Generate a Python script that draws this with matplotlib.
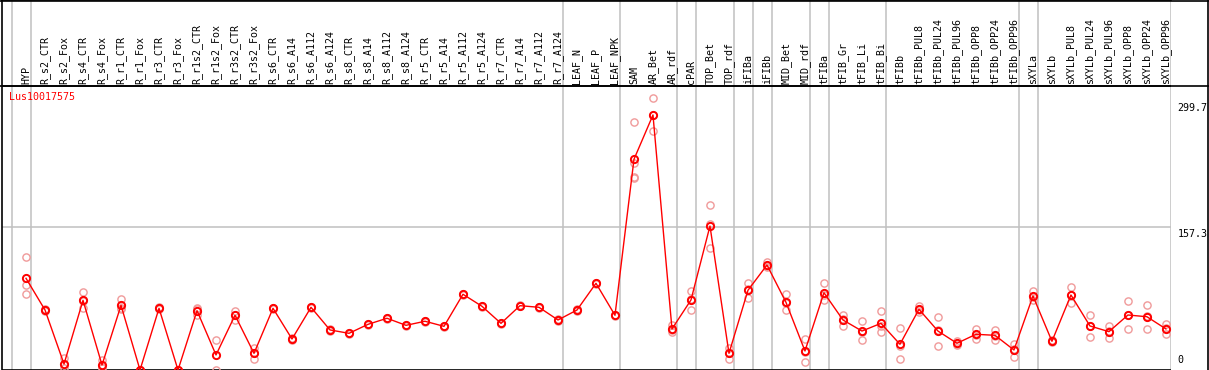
import matplotlib
matplotlib.use("Agg")
import matplotlib.pyplot as plt
from matplotlib.lines import Line2D
from matplotlib.transforms import blended_transform_factory

gene = "Lus10017575"

samples = ["HYP", "R_s2_CTR", "R_s2_Fox", "R_s4_CTR", "R_s4_Fox", "R_r1_CTR", "R_r1_Fox",
           "R_r3_CTR", "R_r3_Fox", "R_r1s2_CTR", "R_r1s2_Fox", "R_r3s2_CTR", "R_r3s2_Fox",
           "R_s6_CTR", "R_s6_A14", "R_s6_A112", "R_s6_A124", "R_s8_CTR", "R_s8_A14",
           "R_s8_A112", "R_s8_A124", "R_r5_CTR", "R_r5_A14", "R_r5_A112", "R_r5_A124",
           "R_r7_CTR", "R_r7_A14", "R_r7_A112", "R_r7_A124", "LEAF_N", "LEAF_P", "LEAF_NPK",
           "SAM", "AR_Bet", "AR_rdf", "cPAR", "TOP_Bet", "TOP_rdf", "iFIBa", "iFIBb",
           "MID_Bet", "MID_rdf", "tFIBa", "tFIB_Gr", "tFIB_Li", "tFIB_Bi", "tFIBb",
           "tFIBb_PUL8", "tFIBb_PUL24", "tFIBb_PUL96", "tFIBb_OPP8", "tFIBb_OPP24",
           "tFIBb_OPP96", "sXYLa", "sXYLb", "sXYLb_PUL8", "sXYLb_PUL24", "sXYLb_PUL96",
           "sXYLb_OPP8", "sXYLb_OPP24", "sXYLb_OPP96"]

means = [101.2, 66.2, 6.6, 76.9, 5.5, 71.4, 0, 68.1, 0, 65.5, 16.6, 60.4, 18.4,
         68.1, 34.2, 69.2, 44.2, 40.5, 50.4, 57.1, 49.3, 53.8, 48.2, 83.6, 70.3,
         51.5, 71.0, 69.2, 55.2, 66.2, 95.7, 60.4,
         232.6, 281.5, 45.3, 77.3, 158.9, 18.4, 88.0, 115.9,
         74.7, 21.0, 85.3, 55.2, 43.0, 51.5, 28.4,
         67.0, 43.0, 29.5, 39.4, 38.3, 22.1,
         81.7, 31.7, 82.8, 48.6, 42.3, 60.7, 58.8, 45.3]

replicates = [
    [124.4, 93.8, 83.9], [67.5, 65.0], [12.9, 6.0, 1.9], [86.1, 76.5, 68.1],
    [11.0, 3.6, 2.0], [78.4, 68.8, 67.0], [0, 0, 0], [69.5, 66.8], [0, 0, 0],
    [68.8, 67.0, 60.7], [33.1, 0], [65.1, 61.0, 55.2], [24.0, 18.6, 12.5],
    [68.8, 67.4], [35.0, 33.4], [70.0, 68.4], [45.0, 43.4], [41.3, 39.7],
    [51.2, 49.6], [57.9, 56.3], [50.1, 48.5], [54.6, 53.0], [49.0, 47.4],
    [84.4, 82.8], [71.1, 69.5], [52.3, 50.7], [71.8, 70.2], [70.0, 68.4],
    [56.0, 54.4], [67.0, 65.4], [96.5, 94.9], [61.2, 59.6],
    [274.0, 228.8, 213.4, 212.3], [299.7, 281.5, 263.8], [49.7, 44.6, 41.6],
    [87.2, 78.5, 66.2], [181.8, 160.6, 134.3], [24.6, 18.8, 11.8],
    [95.7, 89.2, 79.1], [119.5, 114.8, 113.4], [83.9, 74.0, 66.2],
    [34.2, 20.3, 8.5], [95.7, 83.0, 77.3], [60.7, 56.3, 48.6],
    [53.8, 42.4, 32.8], [64.8, 48.1, 41.6], [46.4, 27.0, 11.8],
    [70.6, 66.4, 64.0], [58.2, 44.3, 26.5], [32.0, 28.9, 27.6],
    [45.6, 38.1, 34.5], [44.2, 37.6, 33.1], [28.7, 22.9, 14.7],
    [87.2, 80.6, 77.3], [33.0, 31.7, 30.4], [91.9, 82.9, 73.6],
    [60.4, 49.0, 36.4], [48.6, 43.3, 35.0], [76.2, 61.0, 44.9],
    [71.7, 59.8, 44.9], [50.4, 46.1, 39.4]]

# first sample index of each tissue group (plus the end)
group_starts = [0, 1, 29, 32, 35, 36, 38, 39, 40, 42, 43, 46, 53, 54, 61]

y_max = 299.7
y_mid = 157.3

W, H = 1209, 370
fig = plt.figure(figsize=(W / 100, H / 100), dpi=100)
left_px, right_px = 1.7, 1170.7
ax = fig.add_axes([left_px / W, 0, (right_px - left_px) / W, 1])

px_per_unit = 0.906
ax.set_xlim(-1.28, 60.25)
ax.set_ylim(0, H / px_per_unit)
ax.set_xticks([])
ax.set_yticks([])
for s in ["right", "bottom"]:
    ax.spines[s].set_visible(False)
ax.spines["left"].set_linewidth(1.2)
ax.spines["top"].set_linewidth(1.2)

header_y = (H - 85.5) / px_per_unit

mono = "DejaVu Sans Mono"
x = list(range(len(samples)))

for k in group_starts:
    ax.axvline(k - 0.75, color="#c0c0c0", lw=1.1, zorder=1)
ax.axhline(y_mid, color="#c0c0c0", lw=1.1, zorder=1)
ax.axhline(header_y, color="black", lw=1.2, zorder=2)
ax.axhline(0.1, color="black", lw=1.2, zorder=2)

for i, name in enumerate(samples):
    ax.text(i, header_y + 1.5, name, rotation=90, ha="center", va="bottom",
            fontsize=7.2, family=mono)

for i, reps in enumerate(replicates):
    ax.plot([i] * len(reps), reps, "o", ms=5.2, mfc="none", mec="#f09a9a", mew=1.0, zorder=3)

ax.plot(x, means, "-", color="#ff0000", lw=1.0, zorder=4)
ax.plot(x, means, "o", ms=5.2, mfc="none", mec="#ff0000", mew=1.4, zorder=5)

ax.text(-0.9, (H - 97) / px_per_unit, gene, color="#ff0000", fontsize=7.2, family=mono,
        va="center", ha="left")

tr = blended_transform_factory(ax.transAxes, ax.transData)
lx = (1177.5 - left_px) / (right_px - left_px)
ax.text(lx, y_max - 4.5, f"{y_max}", transform=tr, ha="left", va="top", fontsize=7.2, family=mono)
ax.text(lx, y_mid - 1.2, f"{y_mid}", transform=tr, ha="left", va="top", fontsize=7.2, family=mono)
ax.text(lx, 5.5, "0", transform=tr, ha="left", va="bottom", fontsize=7.2, family=mono)

# header lines and right border across the full width
fig.add_artist(Line2D([0, 1], [1 - 85.5 / H] * 2, color="black", lw=1.2))
fig.add_artist(Line2D([0, 1], [1 - 0.5 / H] * 2, color="black", lw=1.2))
fig.add_artist(Line2D([1 - 1.2 / W] * 2, [0, 1], color="black", lw=1.2))

fig.savefig("out.png", dpi=100)
